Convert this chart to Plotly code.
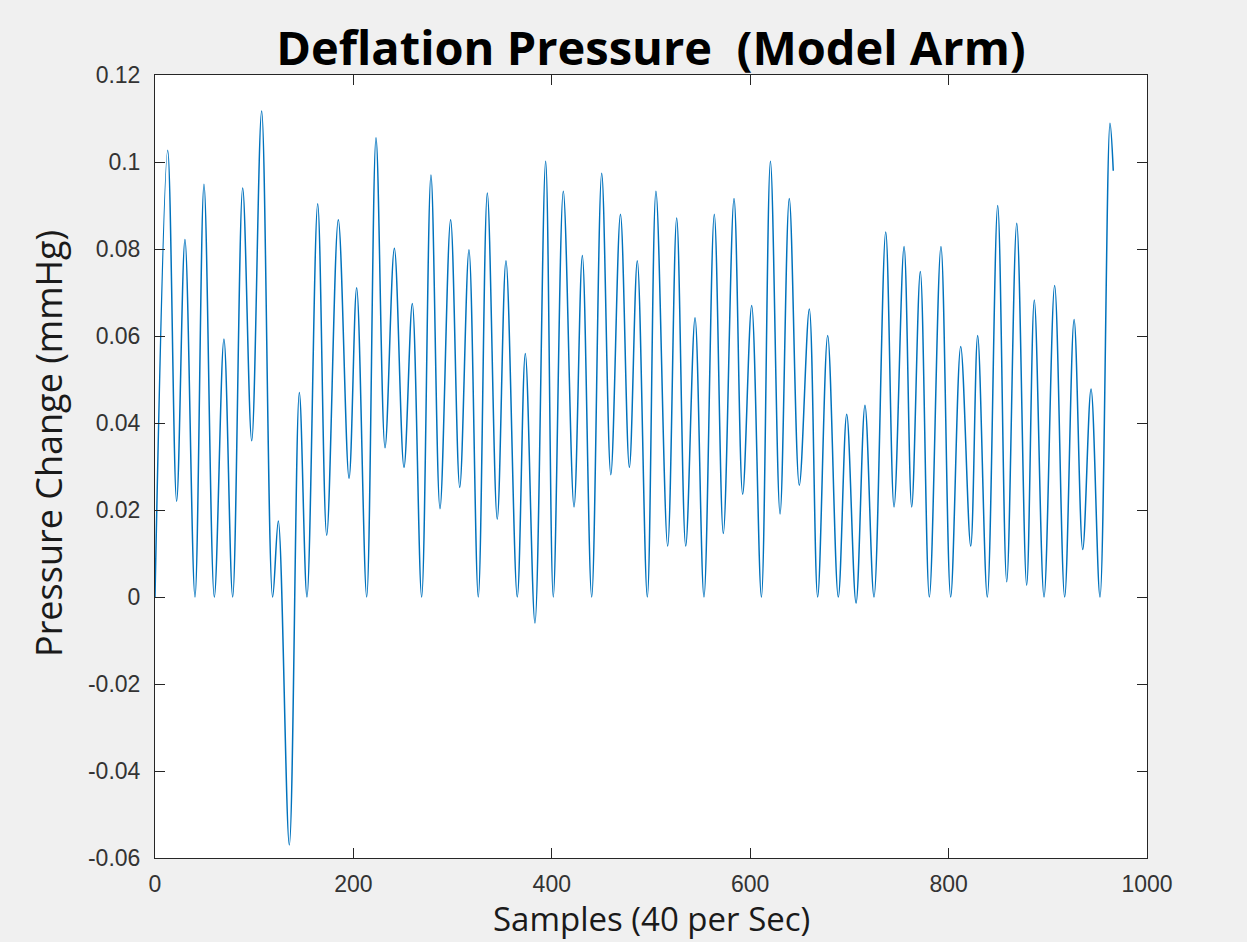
import plotly.graph_objects as go

# Extrema (peaks and troughs)
samples = [0, 12.8, 21.8, 30.2, 40.3, 49.4, 59.8, 69.5, 78.3, 88.4, 97.5, 107.5, 118.6, 124.3,
           135.4, 145.5, 153.2, 164.0, 173.1, 184.8, 195.6, 203.3, 213.4, 222.8, 231.9, 241.3,
           251.0, 259.4, 268.8, 278.2, 287.3, 298.0, 307.2, 316.5, 325.9, 335.0, 345.0, 353.8,
           365.2, 373.3, 383.0, 393.8, 401.5, 411.6, 422.4, 430.8, 440.2, 450.3, 459.5, 469.2,
           478.2, 486.2, 496.3, 505.0, 516.8, 525.9, 535.0, 544.4, 553.4, 563.8, 572.9, 583.7,
           592.4, 601.5, 611.3, 620.4, 630.1, 639.4, 649.5, 659.6, 668.0, 678.1, 688.8, 697.3,
           706.7, 715.7, 724.8, 736.6, 745.0, 755.1, 762.8, 771.5, 780.6, 792.3, 802.1, 812.2,
           822.3, 829.3, 839.0, 849.5, 858.6, 868.7, 878.7, 886.4, 896.2, 906.9, 917.0, 926.5,
           935.2, 943.6, 952.6, 962.7, 966.0]
pressure = [0.0, 0.1027, 0.022, 0.0822, 0.0, 0.0949, 0.0, 0.0593, 0.0, 0.094, 0.0359, 0.1117, 0.0, 0.0175,
            -0.057, 0.047, 0.0, 0.0904, 0.0142, 0.0867, 0.0273, 0.0711, 0.0, 0.1056, 0.0343, 0.0802,
            0.0298, 0.0675, 0.0, 0.097, 0.0203, 0.0867, 0.0252, 0.0798, 0.0, 0.0929, 0.0179, 0.0773,
            0.0, 0.056, -0.006, 0.1002, 0.0, 0.0933, 0.0207, 0.0785, 0.0, 0.0974, 0.0281, 0.088,
            0.0298, 0.0773, 0.0, 0.0933, 0.0117, 0.0871, 0.0117, 0.0642, 0.0, 0.088, 0.0146, 0.0916,
            0.0236, 0.067, 0.0, 0.1002, 0.0191, 0.0916, 0.0257, 0.0662, 0.0, 0.0601, 0.0, 0.042,
            -0.0014, 0.0441, 0.0, 0.0839, 0.0207, 0.0806, 0.0207, 0.0748, 0.0, 0.0806, 0.0, 0.0576,
            0.0117, 0.0601, 0.0, 0.09, 0.0035, 0.0859, 0.0027, 0.0683, 0.0, 0.0716, 0.0, 0.0638,
            0.0109, 0.0478, 0.0, 0.1089, 0.098]

x_ticks = [0, 200, 400, 600, 800, 1000]
y_ticks = [-0.06, -0.04, -0.02, 0, 0.02, 0.04, 0.06, 0.08, 0.1, 0.12]
y_tick_labels = ["-0.06", "-0.04", "-0.02", "0", "0.02", "0.04", "0.06", "0.08", "0.1", "0.12"]

title_text = "Deflation Pressure  (Model Arm)"
x_title = "Samples (40 per Sec)"
y_title = "Pressure Change (mmHg)"

fig = go.Figure()
fig.add_trace(go.Scatter(
    x=samples, y=pressure, mode="lines",
    line=dict(color="#0072BD", width=1.5, shape="spline", smoothing=1.0),
    showlegend=False, hoverinfo="skip",
))

W, H = 1247, 942
L, R, T, B = 155, 100, 75, 84
plot_h = H - T - B
plot_w = W - L - R

axis_common = dict(
    showgrid=False, zeroline=False, showline=True, linecolor="#262626", linewidth=1,
    mirror="ticks", ticks="inside", ticklen=10, tickcolor="#262626", tickwidth=1,
    tickfont=dict(family="Liberation Sans, Arial, sans-serif", size=23, color="#333333"),
)

fig.update_layout(
    width=W, height=H,
    margin=dict(l=L, r=R, t=T, b=B),
    paper_bgcolor="#f0f0f0", plot_bgcolor="#ffffff",
    title=dict(text="<b>" + title_text + "</b>", x=(L + plot_w / 2) / W, xanchor="center",
               y=1 - 49 / H, yanchor="middle", yref="container",
               font=dict(family="Open Sans, Noto Sans, sans-serif", size=47, color="#000000")),
    xaxis=dict(range=[0, 1000], tickvals=x_ticks, ticktext=[str(v) for v in x_ticks],
               ticklabelstandoff=5, **axis_common),
    yaxis=dict(range=[-0.06, 0.12], tickvals=y_ticks, ticktext=y_tick_labels,
               ticklabelstandoff=9, **axis_common),
    annotations=[
        dict(text=x_title, xref="paper", yref="paper", x=0.5, y=-60 / plot_h,
             xanchor="center", yanchor="middle", showarrow=False,
             font=dict(family="Open Sans, Noto Sans, sans-serif", size=33, color="#1a1a1a")),
        dict(text=y_title, xref="paper", yref="paper", x=-107 / plot_w, y=(858 - 444) / plot_h,
             xanchor="center", yanchor="middle", textangle=-90, showarrow=False,
             font=dict(family="Open Sans, Noto Sans, sans-serif", size=36, color="#1a1a1a")),
    ],
)

fig.write_html("out.html")
